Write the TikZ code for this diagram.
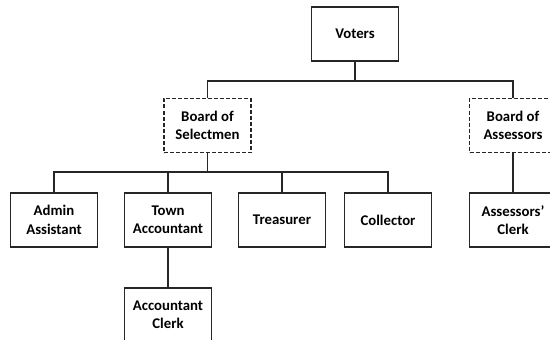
\documentclass[tikz,border=0pt]{standalone}
\usepackage{fontspec}
\setmainfont{Carlito}
\begin{document}
\begin{tikzpicture}[x=1pt,y=-1pt,
  box/.style={draw=black!85, line width=1.2pt, rectangle, minimum width=87pt, minimum height=54pt,
    inner sep=0pt, align=center, font=\fontsize{14.8}{18.3}\selectfont\bfseries},
  dbox/.style={box, dash pattern=on 4pt off 2pt},
  conn/.style={draw=black!85, line width=1.2pt}]
\useasboundingbox (0,0) rectangle (550,340);
\clip (0,0) rectangle (550,340);
\node[box] (voters) at (355,34) {Voters};
\node[dbox] (sel) at (207.5,125.5) {Board of\\Selectmen};
\node[dbox] (ass) at (513,125.5) {Board of\\Assessors};
\node[box] (admin) at (54,220) {Admin\\Assistant};
\node[box] (town) at (168,220) {Town\\Accountant};
\node[box] (treas) at (282,220) {Treasurer};
\node[box] (coll) at (388,220) {Collector};
\node[box] (aclerk) at (513,220) {Assessors'\\Clerk};
\node[box] (accclerk) at (168,315) {Accountant\\Clerk};
\coordinate (j1) at (355,81);
\coordinate (j2) at (207.5,172);
\draw[conn] (voters.south) -- (j1);
\draw[conn] (sel.north) |- (j1) -| (ass.north);
\draw[conn] (sel.south) -- (j2);
\draw[conn] (admin.north) |- (j2) -| (coll.north);
\draw[conn] (town.north) -- (town.north |- j2);
\draw[conn] (treas.north) -- (treas.north |- j2);
\draw[conn] (ass.south) -- (aclerk.north);
\draw[conn] (town.south) -- (accclerk.north);
\end{tikzpicture}
\end{document}
